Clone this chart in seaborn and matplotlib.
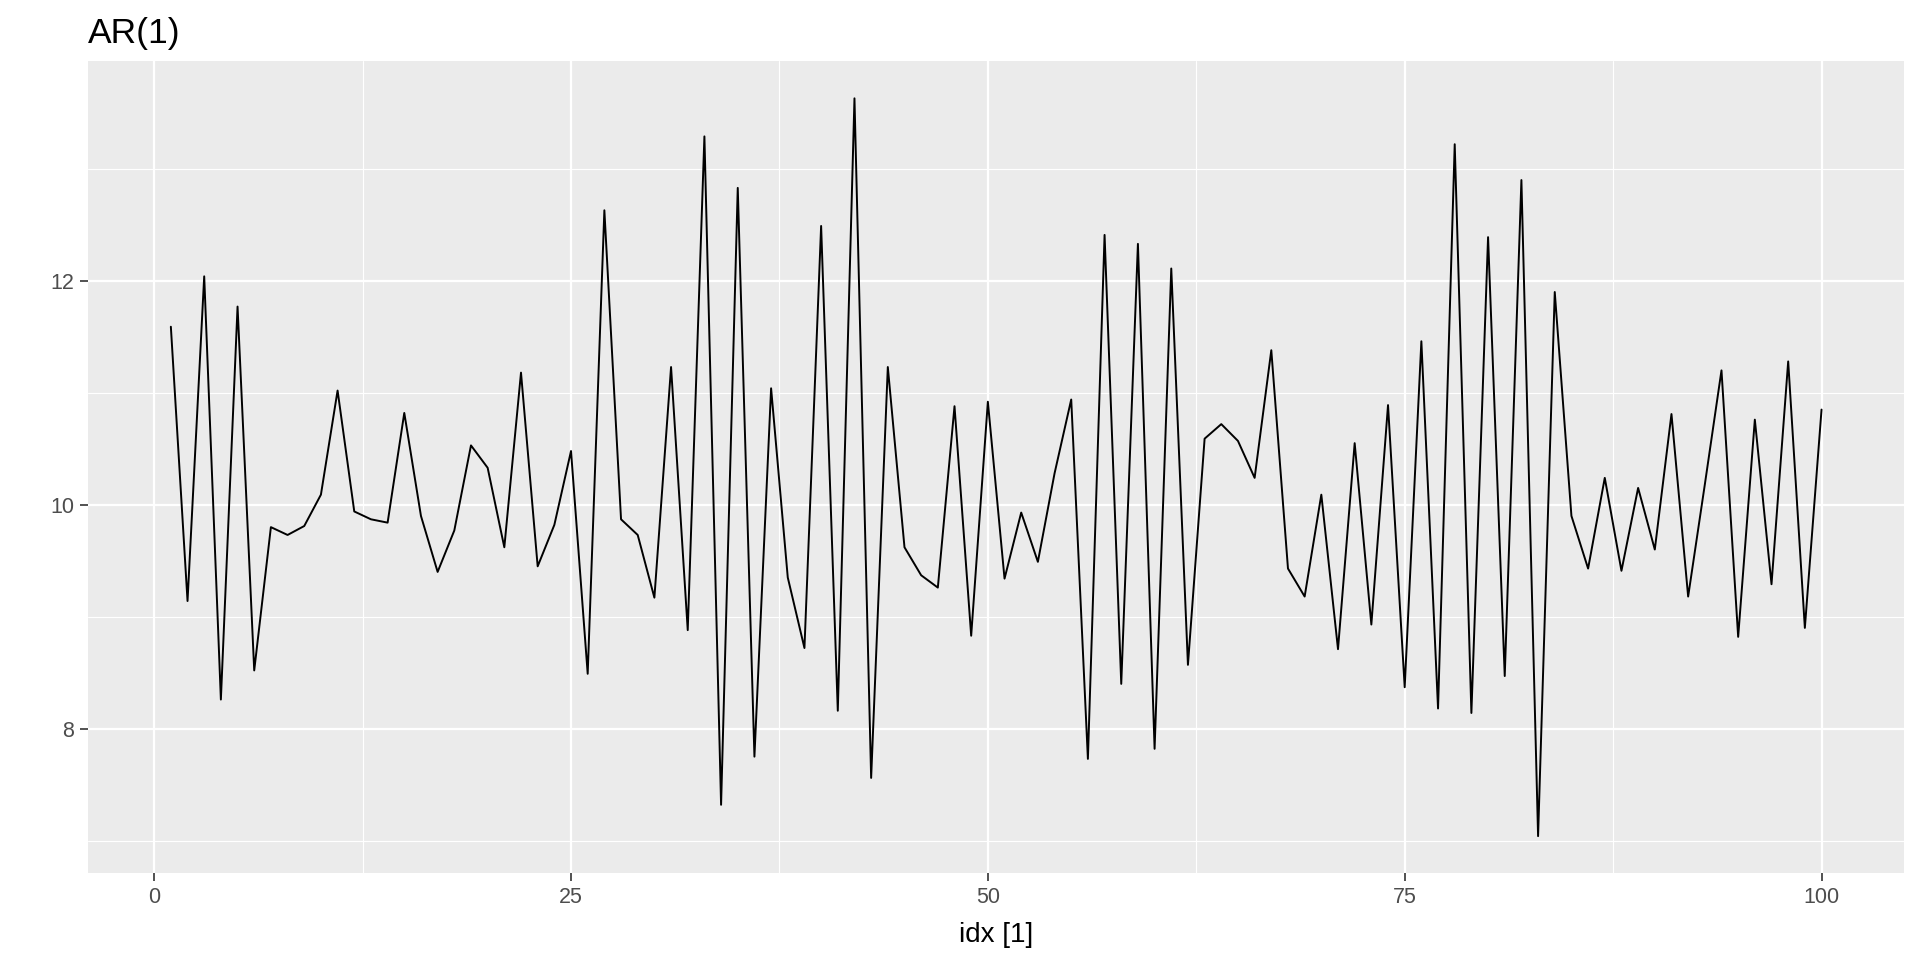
import matplotlib
matplotlib.use("Agg")
import pandas as pd
import matplotlib.pyplot as plt
import seaborn as sns
from matplotlib.ticker import MultipleLocator

# AR(1) series, idx 1..100
idx = list(range(1, 101))
value = [
    11.59, 9.14, 12.04, 8.26, 11.77, 8.52, 9.80, 9.73, 9.81, 10.09,
    11.02, 9.94, 9.87, 9.84, 10.82, 9.90, 9.40, 9.77, 10.53, 10.33,
    9.62, 11.18, 9.45, 9.82, 10.48, 8.49, 12.63, 9.87, 9.73, 9.17,
    11.23, 8.88, 13.29, 7.32, 12.83, 7.75, 11.04, 9.35, 8.72, 12.49,
    8.16, 13.63, 7.56, 11.23, 9.62, 9.37, 9.26, 10.88, 8.83, 10.92,
    9.34, 9.93, 9.49, 10.28, 10.94, 7.73, 12.41, 8.40, 12.33, 7.82,
    12.11, 8.57, 10.59, 10.72, 10.57, 10.24, 11.38, 9.43, 9.18, 10.09,
    8.71, 10.55, 8.93, 10.89, 8.37, 11.46, 8.18, 13.22, 8.14, 12.39,
    8.47, 12.90, 7.04, 11.90, 9.90, 9.43, 10.24, 9.41, 10.15, 9.60,
    10.81, 9.18, 10.18, 11.20, 8.82, 10.76, 9.29, 11.28, 8.90, 10.85,
]

df = pd.DataFrame({"idx": idx, "value": value})

# ggplot-ish grey theme
sns.set_theme(style="darkgrid", rc={"axes.facecolor": "#EBEBEB", "grid.color": "white"})
plt.rcParams["font.family"] = ["Liberation Sans", "DejaVu Sans"]

fig = plt.figure(figsize=(19.2, 9.6), dpi=100)
ax = fig.add_axes([0.046, 0.0906, 0.9457, 0.8454])

sns.lineplot(data=df, x="idx", y="value", color="black", linewidth=1.4, ax=ax)

# 5% expansion like ggplot
xr = max(idx) - min(idx)
yr = max(value) - min(value)
ax.set_xlim(min(idx) - 0.05 * xr, max(idx) + 0.05 * xr)
ax.set_ylim(min(value) - 0.05 * yr, max(value) + 0.05 * yr)

ax.xaxis.set_major_locator(MultipleLocator(25))
ax.xaxis.set_minor_locator(MultipleLocator(12.5))
ax.yaxis.set_major_locator(MultipleLocator(2))
ax.yaxis.set_minor_locator(MultipleLocator(1))
ax.grid(which="major", color="white", linewidth=1.6)
ax.grid(which="minor", color="white", linewidth=0.8)
for s in ax.spines.values():
    s.set_visible(False)

ax.tick_params(which="major", bottom=True, left=True, length=6, width=1.2, color="#333333",
               labelsize=15.5, labelcolor="#4D4D4D")
ax.tick_params(axis="x", which="major", pad=4)
ax.tick_params(axis="y", which="major", pad=4)
ax.tick_params(which="minor", length=0)

ax.set_xlabel("idx [1]", fontsize=20, color="black", labelpad=10)
ax.set_ylabel("")
ax.set_title("AR(1)", loc="left", fontsize=25.5, pad=13, color="black")

fig.savefig("out.png", dpi=100)
